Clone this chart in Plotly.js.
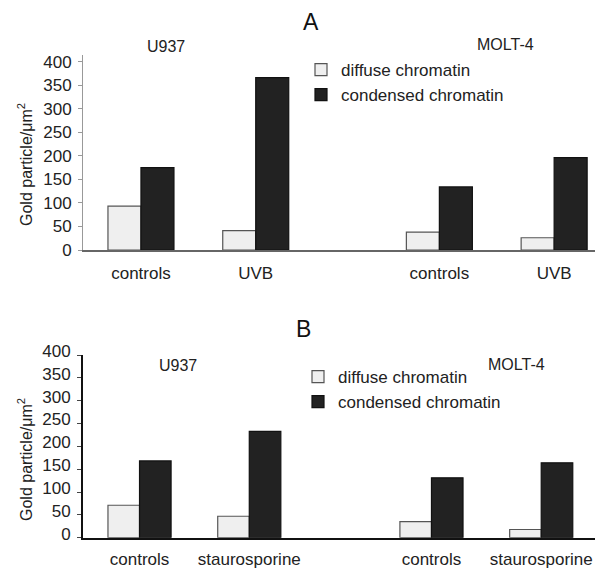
<!DOCTYPE html>
<html>
<head>
<meta charset="utf-8">
<script src="https://cdn.plot.ly/plotly-3.0.1.min.js"></script>
<style>
html,body{margin:0;padding:0;background:#fff;}
#chart{width:595px;height:568px;}
</style>
</head>
<body>
<div id="chart"></div>
<script>
// ---- data ----
const cellLines = ['U937', 'MOLT-4'];
const topTreatments = ['controls', 'UVB'];
const bottomTreatments = ['controls', 'staurosporine'];
const seriesNames = ['diffuse chromatin', 'condensed chromatin'];
// values: [U937 controls, U937 treated, MOLT-4 controls, MOLT-4 treated]
const topDiffuse = [93, 41, 38, 26];
const topCondensed = [175, 366, 134, 196];
const bottomDiffuse = [71, 47, 35, 18];
const bottomCondensed = [168, 233, 131, 164];
const yTicks = [0, 50, 100, 150, 200, 250, 300, 350, 400];

// ---- layout helpers ----
const FONT = '"Liberation Sans", Arial, sans-serif';
function positions(groupPitch) {
  const xs = [];
  cellLines.forEach((_, g) => { [0, 1].forEach(c => xs.push(g * groupPitch + c)); });
  return xs;
}
const topX = positions(2.6);
const botX = positions(2.66);
const topLabels = [].concat(topTreatments, topTreatments);
const botLabels = [].concat(bottomTreatments, bottomTreatments);

const diffuseStyle = {color: '#efefef', line: {color: '#555', width: 1.2}};
const condensedStyle = {color: '#222', line: {color: '#111', width: 1.2}};

const traces = [
  {type: 'bar', x: topX, y: topDiffuse, name: seriesNames[0], marker: diffuseStyle, xaxis: 'x', yaxis: 'y', legend: 'legend', hoverinfo: 'y'},
  {type: 'bar', x: topX, y: topCondensed, name: seriesNames[1], marker: condensedStyle, xaxis: 'x', yaxis: 'y', legend: 'legend', hoverinfo: 'y'},
  {type: 'bar', x: botX, y: bottomDiffuse, name: seriesNames[0], marker: diffuseStyle, xaxis: 'x2', yaxis: 'y2', legend: 'legend2', hoverinfo: 'y'},
  {type: 'bar', x: botX, y: bottomCondensed, name: seriesNames[1], marker: condensedStyle, xaxis: 'x2', yaxis: 'y2', legend: 'legend2', hoverinfo: 'y'}
];

const W = 595, H = 568;
const px = v => v / W;
const py = v => 1 - v / H;

const tickFont = {family: FONT, size: 17, color: '#222'};
function ann(text, x, y, size, extra) {
  return Object.assign({text: text, x: px(x), y: py(y), xref: 'paper', yref: 'paper',
    xanchor: 'center', yanchor: 'middle', showarrow: false,
    font: {family: FONT, size: size, color: '#222'}}, extra || {});
}

const layout = {
  width: W, height: H,
  margin: {l: 0, r: 0, t: 0, b: 0},
  paper_bgcolor: '#fff', plot_bgcolor: 'rgba(0,0,0,0)',
  barmode: 'group', bargap: 0.425, bargroupgap: 0,
  font: {family: FONT, size: 17, color: '#222'},
  xaxis: {
    domain: [px(83), 1], anchor: 'y', range: [-0.505, 3.956],
    tickvals: topX, ticktext: topLabels, tickfont: tickFont,
    showline: true, linecolor: '#666', linewidth: 1.5,
    showgrid: false, zeroline: false, ticks: '', ticklabelstandoff: 7
  },
  yaxis: {
    domain: [py(250), py(55)], anchor: 'x', range: [0, 414],
    tickvals: yTicks, tickfont: tickFont,
    showline: true, linecolor: '#999', linewidth: 1,
    ticks: 'outside', ticklen: 4, tickcolor: '#999', tickwidth: 1,
    showgrid: false, zeroline: false, ticklabelstandoff: 3
  },
  xaxis2: {
    domain: [px(83), 1], anchor: 'y2', range: [-0.515, 4.15],
    tickvals: botX, ticktext: botLabels, tickfont: tickFont,
    showline: true, linecolor: '#111', linewidth: 2,
    showgrid: false, zeroline: false, ticks: '', ticklabelstandoff: 5
  },
  yaxis2: {
    domain: [py(537.7), py(355)], anchor: 'x2', range: [0, 400],
    tickvals: yTicks, tickfont: tickFont,
    showline: true, linecolor: '#111', linewidth: 2,
    ticks: 'outside', ticklen: 4, tickcolor: '#444', tickwidth: 1,
    showgrid: false, zeroline: false, ticklabelstandoff: 3, ticklabelshift: -4
  },
  legend: {
    x: px(301), y: py(52), xanchor: 'left', yanchor: 'top',
    bgcolor: 'rgba(0,0,0,0)', borderwidth: 0,
    font: {family: FONT, size: 17, color: '#222'}, tracegroupgap: 0, traceorder: 'normal'
  },
  legend2: {
    x: px(298), y: py(359), xanchor: 'left', yanchor: 'top',
    bgcolor: 'rgba(0,0,0,0)', borderwidth: 0,
    font: {family: FONT, size: 17, color: '#222'}, tracegroupgap: 0, traceorder: 'normal'
  },
  showlegend: true,
  annotations: [
    ann('A', 311, 22, 23, {font: {family: FONT, size: 23, color: '#111'}}),
    ann('B', 303, 329, 23, {font: {family: FONT, size: 23, color: '#111'}}),
    ann(cellLines[0], 166, 46, 16),
    ann(cellLines[1], 505, 45, 16),
    ann(cellLines[0], 178, 365, 16),
    ann(cellLines[1], 516, 364, 16),
    ann('Gold particle/μm<sup>2</sup>', 25, 165, 16, {textangle: -90}),
    ann('Gold particle/μm<sup>2</sup>', 25, 460, 16, {textangle: -90})
  ]
};

Plotly.newPlot('chart', traces, layout, {displayModeBar: false, staticPlot: true});
</script>
</body>
</html>
